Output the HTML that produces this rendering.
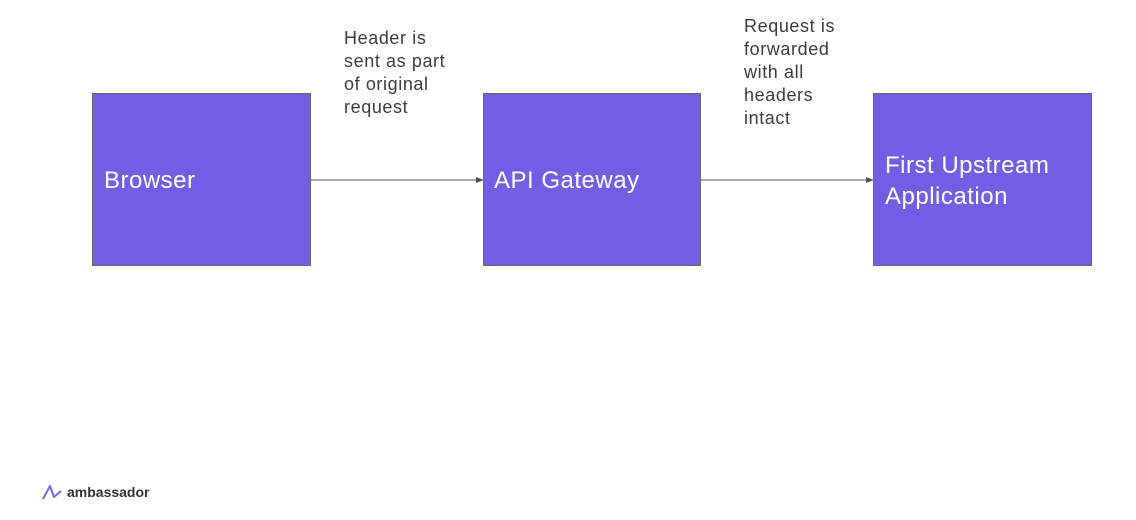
<!DOCTYPE html>
<html><head><style>
body{margin:0;width:1136px;height:520px;background:#fff;position:relative;overflow:hidden;font-family:"Liberation Sans",Arial,sans-serif}
.b{position:absolute;background:#735de4;border:1px solid #666;box-sizing:border-box;color:#fff;font-size:24px;letter-spacing:0.5px}
.t{position:absolute;color:#3c3c3c;font-size:18px;line-height:23px;letter-spacing:0.6px}
</style></head><body>
<div class="b" style="left:92px;top:93px;width:219px;height:173px"><span style="position:absolute;left:11px;top:73px">Browser</span></div>
<div class="b" style="left:483px;top:93px;width:218px;height:173px"><span style="position:absolute;left:10px;top:73px">API Gateway</span></div>
<div class="b" style="left:873px;top:93px;width:219px;height:173px"><span style="position:absolute;left:11px;top:56px;line-height:31px">First Upstream<br>Application</span></div>
<svg style="position:absolute;left:0;top:0" width="1136" height="520">
<line x1="311" y1="180" x2="478" y2="180" stroke="#555" stroke-width="1"/>
<polygon points="484,180 476,177 476,183" fill="#555"/>
<line x1="701" y1="180" x2="868" y2="180" stroke="#555" stroke-width="1"/>
<polygon points="874,180 866,177 866,183" fill="#555"/>
<path d="M43,499 L50,486 L54,497 L61,491" fill="none" stroke="#7a63e8" stroke-width="2" stroke-linejoin="round"/>
</svg>
<div class="t" style="left:344px;top:27px">Header is<br>sent as part<br>of original<br>request</div>
<div class="t" style="left:744px;top:15px">Request is<br>forwarded<br>with all<br>headers<br>intact</div>
<div style="position:absolute;left:67px;top:484px;font-size:14px;font-weight:bold;color:#333">ambassador</div>
</body></html>
